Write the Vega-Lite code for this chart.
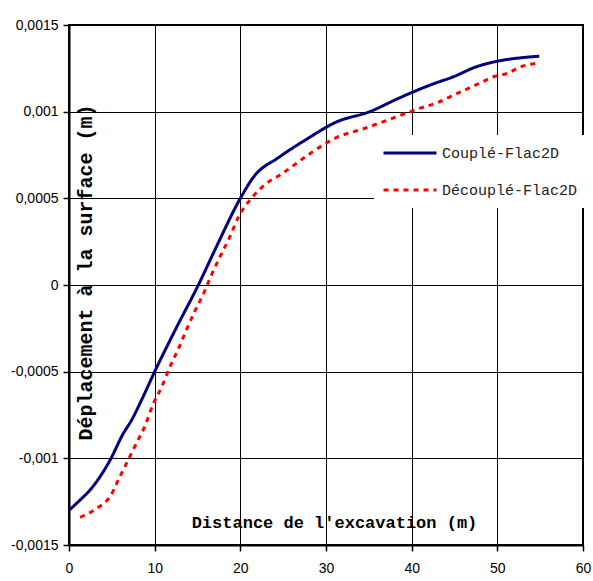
{
  "$schema": "https://vega.github.io/schema/vega-lite/v6.json",
  "autosize": {"type": "none"},
  "padding": {"left": 69, "top": 25, "right": 10, "bottom": 36},
  "width": 514,
  "height": 520,
  "background": "white",
  "config": {
    "view": {"stroke": "black", "strokeWidth": 2},
    "axis": {
      "grid": true,
      "gridColor": "black",
      "gridWidth": 1,
      "gridOpacity": 1,
      "domainColor": "black",
      "domainWidth": 2,
      "tickColor": "black",
      "tickWidth": 1.5,
      "tickSize": 6,
      "labelFont": "Liberation Sans",
      "labelFontSize": 14,
      "labelColor": "black",
      "titleFont": "Liberation Mono",
      "titleFontWeight": "bold",
      "titleFontSize": 17,
      "titleColor": "black"
    }
  },
  "data": {
    "values": [
      {"x": 0, "y": -0.0013, "s": "Couplé-Flac2D"},
      {"x": 1.3, "y": -0.00124, "s": "Couplé-Flac2D"},
      {"x": 2.5, "y": -0.00118, "s": "Couplé-Flac2D"},
      {"x": 3.7, "y": -0.0011, "s": "Couplé-Flac2D"},
      {"x": 4.8, "y": -0.00101, "s": "Couplé-Flac2D"},
      {"x": 6.3, "y": -0.00086, "s": "Couplé-Flac2D"},
      {"x": 7.3, "y": -0.00078, "s": "Couplé-Flac2D"},
      {"x": 8.6, "y": -0.00065, "s": "Couplé-Flac2D"},
      {"x": 10, "y": -0.0005, "s": "Couplé-Flac2D"},
      {"x": 12.6, "y": -0.00024, "s": "Couplé-Flac2D"},
      {"x": 15.1, "y": 0.0, "s": "Couplé-Flac2D"},
      {"x": 17.2, "y": 0.00022, "s": "Couplé-Flac2D"},
      {"x": 20, "y": 0.0005, "s": "Couplé-Flac2D"},
      {"x": 21.5, "y": 0.00062, "s": "Couplé-Flac2D"},
      {"x": 24.6, "y": 0.00074, "s": "Couplé-Flac2D"},
      {"x": 27.7, "y": 0.00084, "s": "Couplé-Flac2D"},
      {"x": 31.2, "y": 0.00094, "s": "Couplé-Flac2D"},
      {"x": 35.1, "y": 0.001, "s": "Couplé-Flac2D"},
      {"x": 38.6, "y": 0.00108, "s": "Couplé-Flac2D"},
      {"x": 42.5, "y": 0.00116, "s": "Couplé-Flac2D"},
      {"x": 44.8, "y": 0.0012, "s": "Couplé-Flac2D"},
      {"x": 47.6, "y": 0.00126, "s": "Couplé-Flac2D"},
      {"x": 49.9, "y": 0.00129, "s": "Couplé-Flac2D"},
      {"x": 52.6, "y": 0.00131, "s": "Couplé-Flac2D"},
      {"x": 54.9, "y": 0.00132, "s": "Couplé-Flac2D"},
      {"x": 1.3, "y": -0.00134, "s": "Découplé-Flac2D"},
      {"x": 3.2, "y": -0.00129, "s": "Découplé-Flac2D"},
      {"x": 4.8, "y": -0.00122, "s": "Découplé-Flac2D"},
      {"x": 6, "y": -0.0011, "s": "Découplé-Flac2D"},
      {"x": 6.9, "y": -0.00101, "s": "Découplé-Flac2D"},
      {"x": 7.9, "y": -0.00091, "s": "Découplé-Flac2D"},
      {"x": 8.9, "y": -0.00081, "s": "Découplé-Flac2D"},
      {"x": 9.8, "y": -0.00069, "s": "Découplé-Flac2D"},
      {"x": 10.8, "y": -0.00059, "s": "Découplé-Flac2D"},
      {"x": 11.8, "y": -0.00047, "s": "Découplé-Flac2D"},
      {"x": 12.75, "y": -0.00037, "s": "Découplé-Flac2D"},
      {"x": 13.7, "y": -0.00026, "s": "Découplé-Flac2D"},
      {"x": 14.7, "y": -0.00015, "s": "Découplé-Flac2D"},
      {"x": 15.7, "y": -0.00005, "s": "Découplé-Flac2D"},
      {"x": 16.65, "y": 0.00006, "s": "Découplé-Flac2D"},
      {"x": 17.6, "y": 0.00016, "s": "Découplé-Flac2D"},
      {"x": 18.8, "y": 0.00028, "s": "Découplé-Flac2D"},
      {"x": 19.75, "y": 0.00039, "s": "Découplé-Flac2D"},
      {"x": 21.3, "y": 0.0005, "s": "Découplé-Flac2D"},
      {"x": 22.9, "y": 0.00058, "s": "Découplé-Flac2D"},
      {"x": 24.8, "y": 0.00064, "s": "Découplé-Flac2D"},
      {"x": 27.9, "y": 0.00075, "s": "Découplé-Flac2D"},
      {"x": 31.2, "y": 0.00085, "s": "Découplé-Flac2D"},
      {"x": 34.3, "y": 0.0009, "s": "Découplé-Flac2D"},
      {"x": 38.2, "y": 0.00097, "s": "Découplé-Flac2D"},
      {"x": 40.95, "y": 0.00102, "s": "Découplé-Flac2D"},
      {"x": 42.9, "y": 0.00105, "s": "Découplé-Flac2D"},
      {"x": 44.65, "y": 0.00109, "s": "Découplé-Flac2D"},
      {"x": 46, "y": 0.00112, "s": "Découplé-Flac2D"},
      {"x": 47.75, "y": 0.00116, "s": "Découplé-Flac2D"},
      {"x": 49.5, "y": 0.0012, "s": "Découplé-Flac2D"},
      {"x": 51.1, "y": 0.00122, "s": "Découplé-Flac2D"},
      {"x": 52.8, "y": 0.00126, "s": "Découplé-Flac2D"},
      {"x": 54.75, "y": 0.00128, "s": "Découplé-Flac2D"}
    ]
  },
  "mark": {"type": "line", "interpolate": "monotone", "strokeWidth": 3},
  "encoding": {
    "x": {
      "field": "x",
      "type": "quantitative",
      "scale": {"domain": [0, 60], "nice": false, "zero": false},
      "axis": {
        "values": [0, 10, 20, 30, 40, 50, 60],
        "title": "Distance de l'excavation (m)",
        "titleX": 265,
        "titleY": -18,
        "titleBaseline": "alphabetic",
        "titleAlign": "center",
        "labelPadding": 10,
        "labelFlush": false
      }
    },
    "y": {
      "field": "y",
      "type": "quantitative",
      "scale": {"domain": [-0.0015, 0.0015], "nice": false, "zero": false},
      "axis": {
        "values": [-0.0015, -0.001, -0.0005, 0, 0.0005, 0.001, 0.0015],
        "labelExpr": "replace(replace(format(datum.value, '.4~f'), '.', ','), '−', '-')",
        "title": "Déplacement à la surface (m)",
        "titleFontSize": 20,
        "titleX": 22,
        "titleY": 247,
        "titleAngle": 270,
        "titleBaseline": "alphabetic",
        "titleAlign": "center",
        "labelPadding": 5,
        "labelFlush": false
      }
    },
    "color": {
      "field": "s",
      "type": "nominal",
      "scale": {"domain": ["Couplé-Flac2D", "Découplé-Flac2D"], "range": ["#000080", "#FF0000"]},
      "legend": {
        "title": null,
        "orient": "none",
        "legendX": 305,
        "legendY": 110,
        "fillColor": "white",
        "padding": 8,
        "symbolType": "stroke",
        "symbolSize": 2809,
        "symbolStrokeWidth": 3,
        "clipHeight": 20,
        "rowPadding": 17,
        "labelFont": "Liberation Mono",
        "labelFontSize": 15,
        "labelColor": "#222222",
        "labelOffset": 4
      }
    },
    "strokeDash": {
      "field": "s",
      "type": "nominal",
      "scale": {"domain": ["Couplé-Flac2D", "Découplé-Flac2D"], "range": [[1, 0], [5, 5]]}
    }
  }
}
